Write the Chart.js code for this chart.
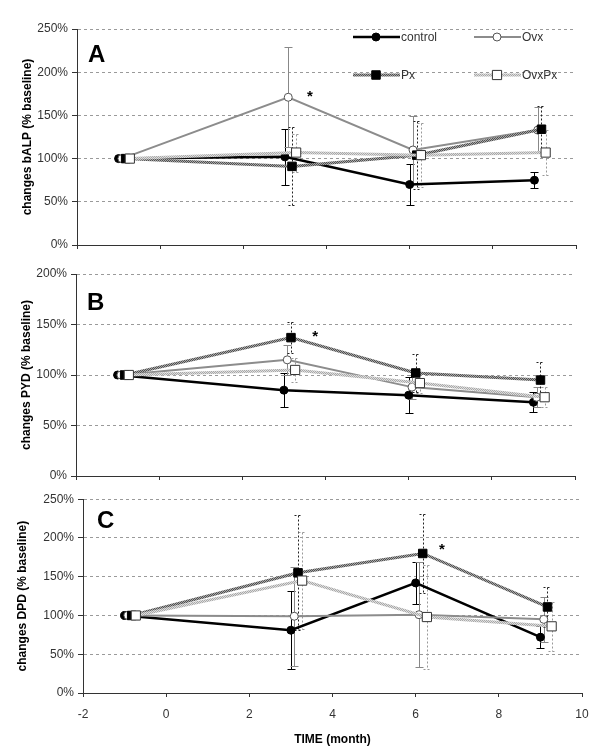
<!DOCTYPE html>
<html>
<head>
<meta charset="utf-8">
<script src="https://cdn.jsdelivr.net/npm/chart.js@4.4.1/dist/chart.umd.min.js"></script>
<style>
  body { margin: 0; background: #fff; }
  .panel { position: absolute; left: 0; width: 600px; }
</style>
</head>
<body>
<div class="panel" style="top:0;height:262px"><canvas id="balp"></canvas></div>
<div class="panel" style="top:262px;height:226px"><canvas id="pyd"></canvas></div>
<div class="panel" style="top:488px;height:268px"><canvas id="dpd"></canvas></div>
<script>
var FONT = "'Liberation Sans', Arial, sans-serif";
Chart.defaults.font.family = FONT;
Chart.defaults.font.size = 12;
Chart.defaults.color = '#333';

// groups and sampling times (months, each group shifted a bit like the original)
var groups = ['control', 'Ovx', 'Px', 'OvxPx'];
var controlX = [-1, 3, 6, 9];
var ovxX = [-0.92, 3.08, 6.08, 9.08];
var pxX = [-0.83, 3.17, 6.17, 9.17];
var ovxpxX = [-0.73, 3.27, 6.27, 9.27];

// A: bALP (% baseline)
var alpControl = [100, 102, 70, 75];
var alpControlErr = [0, 32, 24, 9];
var alpOvx = [100, 171, 110, 133];
var alpOvxErr = [0, 58, 39, 27];
var alpPx = [100, 91, 104, 134];
var alpPxErr = [0, 45, 39, 27];
var alpOvxPx = [100, 107, 104, 107];
var alpOvxPxErr = [0, 22, 37, 26];

// B: PYD (% baseline)
var pydControl = [100, 85, 80, 73];
var pydControlErr = [0, 17, 18, 10];
var pydOvx = [100, 115, 88, 78];
var pydOvxErr = [0, 15, 12, 10];
var pydPx = [100, 137, 102, 95];
var pydPxErr = [0, 15, 19, 18];
var pydOvxPx = [100, 105, 92, 78];
var pydOvxPxErr = [0, 12, 10, 10];

// C: DPD (% baseline)
var dpdControl = [100, 81, 142, 72];
var dpdControlErr = [0, 50, 27, 14];
var dpdOvx = [100, 99, 101, 95];
var dpdOvxErr = [0, 64, 68, 29];
var dpdPx = [100, 155, 180, 111];
var dpdPxErr = [0, 74, 51, 26];
var dpdOvxPx = [100, 145, 98, 86];
var dpdOvxPxErr = [0, 63, 67, 32];

// significance stars [month, %]
var alpStar = [3.6, 176];
var pydStar = [3.75, 142];
var dpdStar = [6.63, 190];

function texture(dark, light) {
  var c = document.createElement('canvas');
  c.width = 4; c.height = 4;
  var g = c.getContext('2d');
  g.fillStyle = light;
  g.fillRect(0, 0, 4, 4);
  g.fillStyle = dark;
  for (var i = 0; i < 4; i++) {
    g.fillRect(i, i, 1, 1);
    g.fillRect(i, (i + 2) % 4, 1, 1);
  }
  return g.createPattern(c, 'repeat');
}

var looks = [
  { line: '#000', width: 2.5, style: 'circle', r: 4, fill: '#000', edge: '#000', bar: '#000', dash: [] },
  { line: '#8c8c8c', width: 2, style: 'circle', r: 4, fill: '#fff', edge: '#555', bar: '#888', dash: [] },
  { line: texture('#505050', '#a8a8a8'), width: 3, style: 'rect', r: 6, fill: '#000', edge: '#000', bar: '#222', dash: [2, 2] },
  { line: texture('#a8a8a8', '#dedede'), width: 3, style: 'rect', r: 6.5, fill: '#fff', edge: '#333', bar: '#999', dash: [2, 2] }
];

function makeSets(values, errors) {
  var xs = [controlX, ovxX, pxX, ovxpxX];
  return groups.map(function (name, i) {
    var lk = looks[i];
    return {
      label: name,
      data: xs[i].map(function (x, j) { return { x: x, y: values[i][j] }; }),
      errors: errors[i],
      errColor: lk.bar,
      errDash: lk.dash,
      borderColor: lk.line,
      borderWidth: lk.width,
      pointStyle: lk.style,
      pointRadius: lk.r,
      pointBackgroundColor: lk.fill,
      pointBorderColor: lk.edge,
      pointBorderWidth: 1,
      tension: 0,
      order: 4 - i
    };
  });
}

var errorBars = {
  id: 'errorBars',
  beforeDatasetsDraw: function (chart) {
    var ctx = chart.ctx, ys = chart.scales.y;
    chart.data.datasets.forEach(function (ds, i) {
      var meta = chart.getDatasetMeta(i);
      ctx.save();
      ctx.strokeStyle = ds.errColor;
      ctx.lineWidth = 1;
      ctx.setLineDash(ds.errDash);
      ds.errors.forEach(function (e, j) {
        if (!e) return;
        var x = Math.round(meta.data[j].x) + 0.5;
        var v = ds.data[j].y;
        var t = Math.round(ys.getPixelForValue(v + e)) + 0.5;
        var b = Math.round(ys.getPixelForValue(v - e)) + 0.5;
        ctx.beginPath();
        ctx.moveTo(x, t); ctx.lineTo(x, b);
        ctx.moveTo(x - 4, t); ctx.lineTo(x + 4, t);
        ctx.moveTo(x - 4, b); ctx.lineTo(x + 4, b);
        ctx.stroke();
      });
      ctx.restore();
    });
  }
};

var panelMarks = {
  id: 'panelMarks',
  afterDraw: function (chart, args, opts) {
    var ctx = chart.ctx, a = chart.chartArea;
    ctx.save();
    ctx.fillStyle = '#000';
    ctx.font = 'bold 24px ' + FONT;
    ctx.textBaseline = 'alphabetic';
    ctx.fillText(opts.letter, a.left + opts.dx, a.top + opts.dy);
    ctx.font = 'bold 15px ' + FONT;
    ctx.textAlign = 'center';
    ctx.fillText('*', chart.scales.x.getPixelForValue(opts.star[0]),
      chart.scales.y.getPixelForValue(opts.star[1]) + 8);

    if (opts.legend) {
      ctx.font = '12px ' + FONT;
      ctx.textAlign = 'left';
      ctx.textBaseline = 'middle';
      chart.data.datasets.forEach(function (ds, i) {
        var x0 = opts.legend.x + (i % 2) * 121;
        var y0 = opts.legend.y + Math.floor(i / 2) * 38;
        ctx.strokeStyle = ds.borderColor;
        ctx.lineWidth = ds.borderWidth;
        ctx.beginPath();
        ctx.moveTo(x0, y0); ctx.lineTo(x0 + 47, y0);
        ctx.stroke();
        ctx.fillStyle = ds.pointBackgroundColor;
        ctx.strokeStyle = ds.pointBorderColor;
        ctx.lineWidth = 1;
        Chart.helpers.drawPoint(ctx, { pointStyle: ds.pointStyle, radius: ds.pointRadius, borderWidth: 1, rotation: 0 }, x0 + 23, y0);
        ctx.fillStyle = '#333';
        ctx.fillText(ds.label, x0 + 48, y0 + 1);
      });
    }
    ctx.restore();
  }
};

function makePanel(id, cfg) {
  return new Chart(document.getElementById(id), {
    type: 'line',
    data: { datasets: makeSets(cfg.values, cfg.errors) },
    plugins: [errorBars, panelMarks],
    options: {
      animation: false,
      responsive: true,
      maintainAspectRatio: false,
      layout: { padding: { left: 0, right: cfg.right, top: cfg.top, bottom: 0 } },
      plugins: {
        legend: { display: false },
        tooltip: { enabled: false },
        panelMarks: { letter: cfg.letter, dx: cfg.dx, dy: cfg.dy, star: cfg.star, legend: cfg.legend }
      },
      scales: {
        x: {
          type: 'linear',
          min: -2,
          max: 10,
          afterFit: function (s) { s.height = cfg.xHeight; },
          ticks: { stepSize: 2, display: cfg.xLabels, padding: 10, color: '#333' },
          grid: { drawOnChartArea: false, drawTicks: true, tickLength: 4, tickColor: '#333' },
          border: { display: true, color: '#333' },
          title: {
            display: cfg.xLabels,
            text: 'TIME (month)',
            font: { weight: 'bold', size: 12 },
            color: '#000',
            padding: { top: 0, bottom: 9 }
          }
        },
        y: {
          min: 0,
          max: cfg.yMax,
          afterFit: function (s) { s.width = cfg.yWidth; },
          ticks: { stepSize: 50, callback: function (v) { return v + '%'; }, color: '#333', padding: 4 },
          grid: {
            color: function (c) { return c.tick && c.tick.value === 0 ? 'rgba(0,0,0,0)' : '#9a9a9a'; },
            tickLength: 5,
            tickColor: '#333'
          },
          border: { display: true, color: '#333', dash: [3, 3] },
          title: {
            display: true,
            text: cfg.yTitle,
            font: { weight: 'bold', size: 12 },
            color: '#000',
            padding: { top: cfg.titlePad, bottom: 0 }
          }
        }
      }
    }
  });
}

makePanel('balp', {
  values: [alpControl, alpOvx, alpPx, alpOvxPx],
  errors: [alpControlErr, alpOvxErr, alpPxErr, alpOvxPxErr],
  yMax: 250, yTitle: 'changes bALP (% baseline)',
  letter: 'A', dx: 11, dy: 33, star: alpStar,
  legend: { x: 353, y: 37 },
  top: 29, right: 24, xHeight: 17, yWidth: 77, xLabels: false, titlePad: 20
});

makePanel('pyd', {
  values: [pydControl, pydOvx, pydPx, pydOvxPx],
  errors: [pydControlErr, pydOvxErr, pydPxErr, pydOvxPxErr],
  yMax: 200, yTitle: 'changes PYD (% baseline)',
  letter: 'B', dx: 11, dy: 36, star: pydStar,
  top: 12, right: 25, xHeight: 12, yWidth: 76, xLabels: false, titlePad: 19
});

makePanel('dpd', {
  values: [dpdControl, dpdOvx, dpdPx, dpdOvxPx],
  errors: [dpdControlErr, dpdOvxErr, dpdPxErr, dpdOvxPxErr],
  yMax: 250, yTitle: 'changes DPD (% baseline)',
  letter: 'C', dx: 14, dy: 29, star: dpdStar,
  top: 11, right: 18, xHeight: 63, yWidth: 83, xLabels: true, titlePad: 15
});
</script>
</body>
</html>
